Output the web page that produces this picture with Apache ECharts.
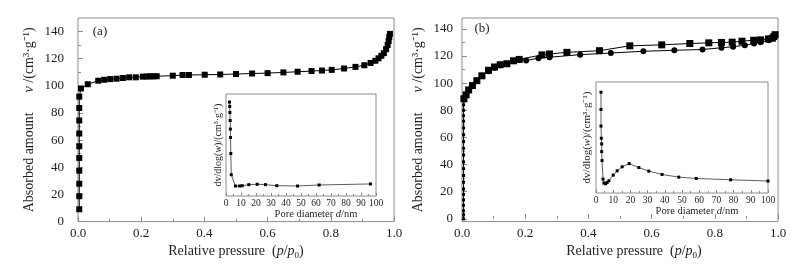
<!DOCTYPE html>
<html><head><meta charset="utf-8">
<script src="https://cdn.jsdelivr.net/npm/echarts@6/dist/echarts.min.js"></script>
<style>html,body{margin:0;padding:0;background:#fff}#c{width:805px;height:265px}</style>
</head><body><div id="c"></div>
<script>
// ---------- data ----------
// (a) N2 isotherm: [p/p0, v]
const aIso = [
 [0.004,9.1],[0.004,18.7],[0.004,27.9],[0.004,37.5],[0.004,46.9],[0.004,55.5],[0.004,64.9],[0.004,74.5],[0.004,83.7],[0.004,92.1],
 [0.0095,98.1],[0.031,101.2],[0.064,103.8],[0.083,104.5],[0.102,105.0],[0.122,105.3],[0.142,105.8],[0.162,106.3],[0.183,106.3],
 [0.205,106.8],[0.217,106.9],[0.228,107.0],[0.238,107.0],[0.249,107.1],[0.300,107.5],[0.331,108.0],[0.351,108.0],[0.401,108.2],
 [0.450,108.4],[0.500,108.7],[0.551,109.1],[0.600,109.4],[0.650,109.9],[0.695,110.4],[0.739,110.9],[0.772,111.3],[0.803,111.8],
 [0.842,112.8],[0.878,114.0],[0.906,115.2],[0.926,116.9],[0.941,118.5],[0.951,120.3],[0.960,122.2],[0.968,124.1],[0.975,127.0],
 [0.980,130.1],[0.983,133.0],[0.985,135.9],[0.987,138.3]
];
// (a) inset pore size distribution: [d/nm, dv/dlog(w) (arb.)]
const aPsd = [
 [2.3,92.1],[2.5,87.8],[2.6,81.9],[2.8,74.0],[2.9,65.6],[3.0,57.3],[3.2,41.6],[3.5,20.9],[6.3,9.8],[9.0,9.8],
 [10.8,10.1],[15.2,11.1],[20.8,11.5],[26.3,11.1],[33.9,10.1],[47.7,9.8],[62.1,10.8],[96.3,11.8]
];
// (b) adsorption branch (circles)
const bAds = [
 [0.005,0],[0.005,3],[0.005,6],[0.005,10],[0.005,14],[0.005,18],[0.005,22],[0.005,27],[0.005,32],[0.005,37],
 [0.005,42],[0.005,47],[0.005,52],[0.005,57],[0.005,62],[0.005,67],[0.005,72],[0.005,76],[0.005,80],[0.005,84],
 [0.006,87],[0.013,91.4],[0.021,95.0],[0.033,98.2],[0.047,101.8],[0.063,105.4],[0.084,108.7],[0.103,111.4],
 [0.121,113.1],[0.142,114.1],[0.163,116.2],[0.181,117.2],[0.203,116.7],[0.242,118.4],[0.277,119.1],[0.374,121.0],
 [0.471,122.2],[0.574,123.5],[0.672,124.2],[0.761,124.8],[0.821,126.1],[0.858,126.8],[0.895,128.0],[0.924,129.2],
 [0.945,130.2],[0.970,131.6],[0.988,134.2]
];
// (b) desorption branch (squares)
const bDes = [
 [0.991,135.7],[0.987,134.3],[0.982,133.1],[0.970,132.6],[0.945,131.9],[0.923,131.6],[0.886,130.9],[0.855,130.2],
 [0.821,130.0],[0.781,129.7],[0.721,129.2],[0.632,128.2],[0.531,127.5],[0.435,123.9],[0.332,122.7],[0.277,121.5],
 [0.253,120.8],[0.181,117.5],[0.163,116.5],[0.142,114.3],[0.121,113.6],[0.103,111.9],[0.084,109.5],[0.063,105.4],
 [0.047,101.8],[0.033,98.2],[0.021,95.0],[0.013,91.4],[0.006,88.5]
];
// (b) inset pore size distribution
const bPsd = [
 [2.9,90.8],[2.9,75.3],[2.9,60.3],[3.1,49.3],[3.3,44.2],[3.3,37.3],[3.5,29.2],[4.1,12.5],[4.6,9.0],[5.6,8.3],
 [6.5,9.5],[7.5,11.0],[10.0,16.1],[12.3,20.0],[15.2,23.6],[19.3,26.5],[24.9,22.9],[30.7,19.7],[38.4,16.7],
 [48.1,14.3],[58.3,13.1],[78.3,11.9],[100,10.8]
];
const mainYLabels = [0,20,40,60,80,100,120,140];
const mainYMinor = [10,30,50,70,90,110,130];
const panelTags = ['(a)','(b)'];

// ---------- styling ----------
const FONT = 'Liberation Serif';
const FRAME = '#8c8c8c';
const TXT = '#1e1e1e';

const chart = echarts.init(document.getElementById('c'), null, {renderer:'canvas'});

function frameGrid(left, top, width, height, bg) {
  return {left, top, width, height, show:true, borderColor:FRAME, borderWidth:1, backgroundColor:bg, containLabel:false};
}
const xName = '{n|Relative pressure  (}{i|p}{n|/}{i|p}{s|0}{n|)}';
const xRich = {
  n:{fontFamily:FONT, fontSize:14, color:TXT},
  i:{fontFamily:FONT, fontSize:14, fontStyle:'italic', color:TXT},
  s:{fontFamily:FONT, fontSize:9, color:TXT, padding:[8,0,0,0]}
};
const yName = '{n|Absorbed amount}{g|}{i|v}{n| /(cm³·g⁻¹)}';
const yRich = {
  n:{fontFamily:FONT, fontSize:14, color:TXT},
  i:{fontFamily:FONT, fontSize:14, fontStyle:'italic', color:TXT},
  g:{width:20}
};
function mainX(gi, shift) {
  return {gridIndex:gi, type:'value', min:0, max:1, interval:0.2,
    axisLine:{show:false},
    axisTick:{show:true, inside:true, length:5, lineStyle:{color:FRAME}},
    minorTick:{show:true, splitNumber:2, length:3, lineStyle:{color:FRAME}},
    splitLine:{show:false}, minorSplitLine:{show:false},
    axisLabel:{fontFamily:FONT, fontSize:13, color:TXT, margin:5, formatter:v=>v.toFixed(1)},
    name:xName, nameLocation:'middle', nameGap:15,
    nameTextStyle:{rich:xRich, padding:[0,0,0,shift]}
  };
}
function mainY(gi, min, max, gap) {
  return {gridIndex:gi, type:'value', min, max,
    axisLine:{show:false},
    axisTick:{show:true, inside:true, length:5, customValues:mainYLabels, lineStyle:{color:FRAME}},
    splitLine:{show:false},
    axisLabel:{fontFamily:FONT, fontSize:13, color:TXT, margin:gi===0?14:9, customValues:mainYLabels},
    name:yName, nameLocation:'middle', nameGap:gap, nameRotate:90, nameTextStyle:{rich:yRich}
  };
}
function minorY(gi, min, max) {
  return {gridIndex:gi, type:'value', min, max, position:'left',
    axisLine:{show:false},
    axisTick:{show:true, inside:true, length:3, customValues:mainYMinor, lineStyle:{color:FRAME}},
    axisLabel:{show:false}, splitLine:{show:false}
  };
}
function insetX(gi) {
  return {gridIndex:gi, type:'value', min:0, max:100, interval:10,
    axisLine:{show:false},
    axisTick:{show:true, inside:true, length:3, lineStyle:{color:FRAME}},
    minorTick:{show:true, splitNumber:2, length:2, lineStyle:{color:FRAME}},
    splitLine:{show:false},
    axisLabel:{fontFamily:FONT, fontSize:9.5, color:TXT, margin:2},
    name:'{n|Pore diameter }{i|d}{n|/nm}', nameLocation:'middle', nameGap:12,
    nameTextStyle:{padding:[0,0,0,30], rich:{
      n:{fontFamily:FONT, fontSize:10.5, color:TXT},
      i:{fontFamily:FONT, fontSize:10.5, fontStyle:'italic', color:TXT}}}
  };
}
function insetY(gi, size) {
  return {gridIndex:gi, type:'value', min:0, max:100,
    axisLine:{show:false}, axisTick:{show:false}, axisLabel:{show:false}, splitLine:{show:false},
    name:'{n|dv/dlog(}{i|w}{n|)/(cm³·g⁻¹)}', nameLocation:'middle', nameGap:3, nameRotate:90,
    nameTextStyle:{rich:{
      n:{fontFamily:FONT, fontSize:size, color:TXT},
      i:{fontFamily:FONT, fontSize:size, fontStyle:'italic', color:TXT}}}
  };
}

const option = {
  animation:false,
  backgroundColor:'#fff',
  grid:[
    frameGrid(78, 18, 316, 208, 'transparent'),
    frameGrid(226, 94, 150, 102, '#fff'),
    frameGrid(462, 18, 316, 208, 'transparent'),
    frameGrid(596, 82, 172, 111, '#fff')
  ],
  xAxis:[ mainX(0, 0), insetX(1), mainX(2, 28), insetX(3) ],
  yAxis:[ mainY(0,0,150,42), minorY(0,0,150), insetY(1,10), mainY(2,-2,148,37), minorY(2,-2,148), insetY(3,11) ],
  series:[
    {type:'line', xAxisIndex:0, yAxisIndex:0, data:aIso, symbol:'rect', symbolSize:6,
     itemStyle:{color:'#000'}, lineStyle:{color:'#000', width:1}},
    {type:'line', xAxisIndex:1, yAxisIndex:2, data:aPsd, symbol:'rect', symbolSize:3,
     itemStyle:{color:'#000'}, lineStyle:{color:'#333', width:0.8}, z:5},
    {type:'line', xAxisIndex:2, yAxisIndex:3, data:bAds, symbol:'rect',
     symbolSize:(v)=> (v[0]<0.01 && v[1]<88) ? 3 : 6,
     itemStyle:{color:'#000'}, lineStyle:{color:'#000', width:1}},
    {type:'line', xAxisIndex:2, yAxisIndex:3, data:bDes, symbol:'rect', symbolSize:7,
     itemStyle:{color:'#000'}, lineStyle:{color:'#000', width:1}},
    {type:'line', xAxisIndex:3, yAxisIndex:5, data:bPsd, symbol:'rect', symbolSize:3,
     itemStyle:{color:'#000'}, lineStyle:{color:'#333', width:0.8}, z:5}
  ],
  graphic:[
    {type:'text', x:100, y:32, style:{text:panelTags[0], font:'13px "Liberation Serif"', fill:TXT, align:'center', verticalAlign:'middle'}},
    {type:'text', x:482, y:29, style:{text:panelTags[1], font:'13px "Liberation Serif"', fill:TXT, align:'center', verticalAlign:'middle'}}
  ]
};
// circles for the adsorption branch except the dense low-pressure dots
option.series[2].symbol = (v)=> (v[0]<0.01 && v[1]<88) ? 'rect' : 'circle';
chart.setOption(option);
</script>
</body></html>
